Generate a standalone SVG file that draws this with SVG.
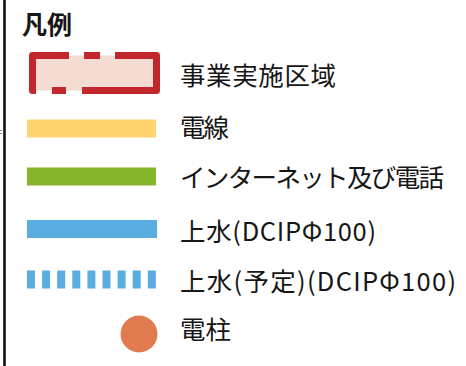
<svg xmlns="http://www.w3.org/2000/svg" width="466" height="366" viewBox="0 0 466 366">
  <style>
    .lbl { font-family: "Noto Sans CJK JP", "Noto Sans", sans-serif; font-size: 25.5px; fill: #161616; }
    .title { font-family: "Noto Sans CJK JP", "Noto Sans", sans-serif; font-size: 25px; font-weight: bold; fill: #161616; }
    .zone { fill: none; stroke: #c1272d; stroke-width: 7; stroke-linejoin: round; stroke-linecap: butt; }
  </style>
  <rect x="0" y="0" width="466" height="366" fill="#ffffff"/>
  <g id="frame">
    <line x1="4.5" y1="0" x2="4.5" y2="366" stroke="#111" stroke-width="2.6"/>
    <rect x="0" y="130" width="2" height="1" fill="#888"/>
    <rect x="0" y="133" width="2" height="1" fill="#888"/>
  </g>
  <text class="title" x="22" y="34" textLength="50" lengthAdjust="spacingAndGlyphs">凡例</text>
  <g id="item-zone">
    <rect x="32.5" y="55.5" width="124" height="35" fill="#f5dcd3"/>
    <path class="zone" d="M36 90.5 L32.5 90.5 L32.5 55.5 L69 55.5"/>
    <path class="zone" d="M84 55.5 L100 55.5"/>
    <path class="zone" d="M115 55.5 L156.5 55.5 L156.5 90.5 L82 90.5"/>
    <path class="zone" d="M66 90.5 L52 90.5"/>
    <text class="lbl" x="180" y="84.5" textLength="156" lengthAdjust="spacing">事業実施区域</text>
  </g>
  <g id="item-power">
    <rect x="27" y="119.5" width="129" height="18" fill="#ffd36e"/>
    <text class="lbl" x="180" y="136.5" textLength="49" lengthAdjust="spacing">電線</text>
  </g>
  <g id="item-net">
    <rect x="27" y="167.5" width="129" height="18" fill="#86b52b"/>
    <text class="lbl" x="180" y="186.5" textLength="264" lengthAdjust="spacing">インターネット及び電話</text>
  </g>
  <g id="item-water">
    <rect x="27" y="220" width="130" height="18" fill="#5aade0"/>
    <text class="lbl" x="180" y="240.5" textLength="196" lengthAdjust="spacing">上水(DCIPΦ100)</text>
  </g>
  <g id="item-water-plan">
    <line x1="27" y1="279.5" x2="156" y2="279.5" stroke="#5aade0" stroke-width="18" stroke-dasharray="8 7.1"/>
    <text class="lbl" x="180" y="290.5" textLength="276" lengthAdjust="spacing">上水(予定)(DCIPΦ100)</text>
  </g>
  <g id="item-pole">
    <circle cx="139" cy="334" r="18.5" fill="#e07b4f"/>
    <text class="lbl" x="180" y="338.5" textLength="51" lengthAdjust="spacing">電柱</text>
  </g>
</svg>
